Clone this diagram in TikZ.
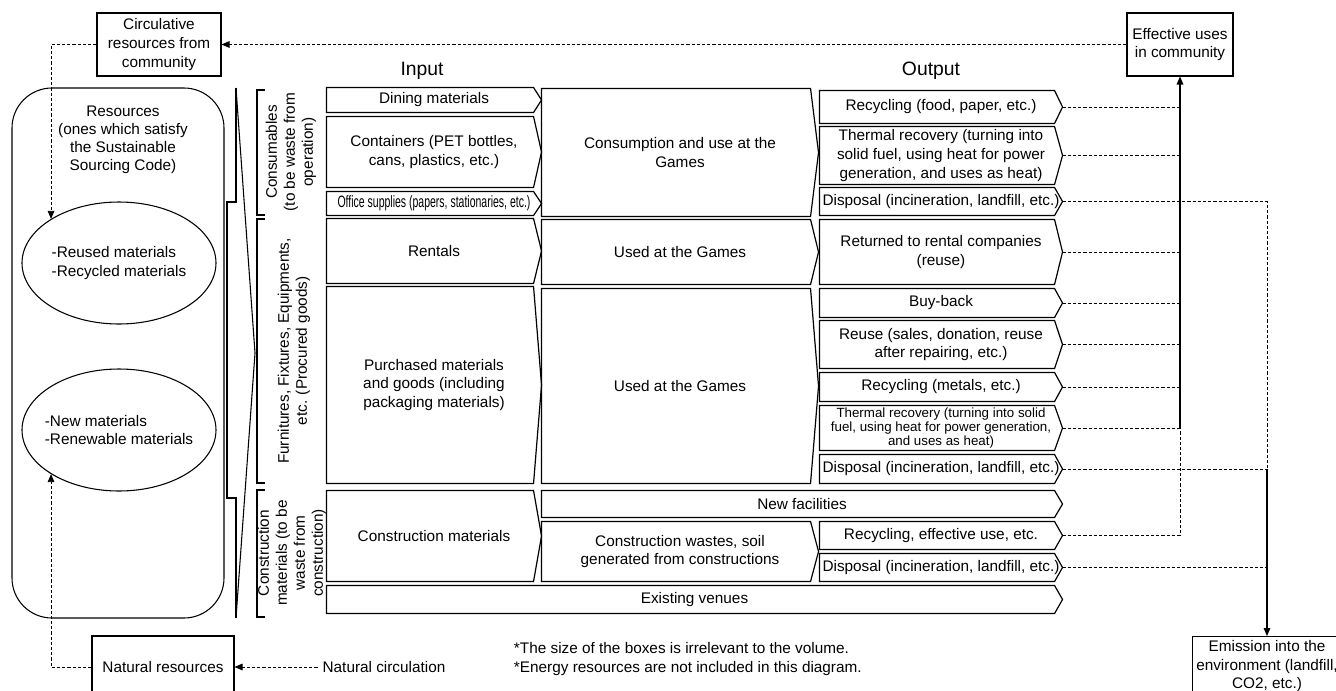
\documentclass[tikz,border=0pt]{standalone}
\usepackage{fontspec}
\setmainfont{Liberation Sans}
\newfontfamily\narrowfont[FakeStretch=0.64]{Liberation Sans}
\usetikzlibrary{arrows.meta,fit,shapes.geometric}

% box from its corners (pixel units): style, name, x1, y1, x2, y2, text
\newcommand{\placebox}[7]{%
  \node[#1, minimum width={(#5-#3)*0.75pt}, minimum height={(#6-#4)*0.75pt}]
    (#2) at ({(#3+#5)/2},{(#4+#6)/2}) {#7};}

\begin{document}
\begin{tikzpicture}[x=0.75pt, y=-0.75pt, >={Triangle[length=6pt,width=5pt]},
    font=\fontsize{11.5}{14}\selectfont, line width=0.8pt]
  \tikzset{
    box/.style={draw, rectangle, inner sep=0pt, align=center},
    chev/.style={inner sep=0pt, align=center,
      append after command={\pgfextra{\draw[line width=0.9pt]
        (\tikzlastnode.north west) -- ([xshift=-6pt]\tikzlastnode.north east)
        -- (\tikzlastnode.east) -- ([xshift=-6pt]\tikzlastnode.south east)
        -- (\tikzlastnode.south west) -- cycle;}}},
    ell/.style={draw, ellipse, inner sep=0pt, minimum width=194*0.75pt, minimum height=122*0.75pt},
    dashline/.style={line width=0.6pt, dash pattern=on 2.4pt off 1.5pt},
    cat/.style={rotate=90, align=center, font=\fontsize{11.5}{13.5}\selectfont},
    head/.style={font=\fontsize{14.5}{16}\selectfont},
    smalltxt/.style={font=\fontsize{10}{10.5}\selectfont},
    narrow/.style={font=\narrowfont\fontsize{12.3}{13}\selectfont}
  }
  \useasboundingbox (0,0) rectangle (1336,690);

  %% ---- Resources (left) ----
  \placebox{box}{circ}{97}{13}{221}{76}{Circulative\\resources from\\community}
  \node[draw, rounded corners=30pt, inner sep=0pt, fit={(12,88) (224,618)}] (res) {};
  \node[align=center, font=\fontsize{11.5}{13.5}\selectfont] (restxt) at (123,140)
    {Resources\\(ones which satisfy\\the Sustainable\\Sourcing Code)};
  \node[ell] (reused) at (119,263) {};
  \node[align=left] (reusedtxt) at (reused) {-Reused materials\\-Recycled materials};
  \node[ell] (newmat) at (119,430) {};
  \node[align=left] (newmattxt) at (newmat) {-New materials\\-Renewable materials};
  \placebox{box}{natres}{92}{636}{234}{698}{Natural resources}
  \node (natcirc) at (384,667) {Natural circulation};

  \draw[dashline, ->] (circ.west) -| (reused.147);
  \draw[dashline, ->] (natres.west) -| (newmat.213);
  \draw[dashline, ->] (natcirc.west) -- (natres.east);

  %% ---- Brackets ----
  \draw (236,88) -- (236,202) -- (227,202) -- (227,498) -- (236,498) -- (236,618);
  \draw (236,88) -- (255,353) -- (236,618);
  \draw (265,90) -- (257,90) -- (257,215) -- (265,215);
  \draw (265,219) -- (257,219) -- (257,483) -- (265,483);
  \draw (265,490) -- (257,490) -- (257,617) -- (265,617);
  \node[cat] (catcons) at (291,152) {Consumables\\(to be waste from\\operation)};
  \node[cat] (catfurn) at (294,351) {Furnitures, Fixtures, Equipments,\\etc. (Procured goods)};
  \node[cat] (catcnst) at (292,553) {Construction\\materials (to be\\waste from\\construction)};

  %% ---- Headings ----
  \node[head] (hin) at (422,71) {Input};
  \node[head] (hout) at (931,71) {Output};

  %% ---- Input ----
  \placebox{chev}{dining}{327}{88}{541}{112}{Dining materials}
  \placebox{chev}{contain}{327}{117}{541}{187}{Containers (PET bottles,\\cans, plastics, etc.)}
  \placebox{chev, narrow}{office}{327}{192}{541}{215}{Office supplies (papers, stationaries, etc.)}
  \placebox{chev}{rentals}{327}{219}{541}{283}{Rentals}
  \placebox{chev}{purch}{327}{287}{541}{483}{Purchased materials\\and goods (including\\packaging materials)}
  \placebox{chev}{cmat}{327}{491}{541}{581}{Construction materials}

  %% ---- Use ----
  \placebox{chev}{consume}{542}{89}{818}{216}{Consumption and use at the\\Games}
  \placebox{chev}{used1}{542}{220}{818}{284}{Used at the Games}
  \placebox{chev}{used2}{542}{289}{818}{483}{Used at the Games}
  \placebox{chev}{newfac}{542}{491}{1062}{517}{New facilities}
  \placebox{chev}{cwaste}{542}{522}{818}{581}{Construction wastes, soil\\generated from constructions}
  \placebox{chev}{exist}{327}{586}{1062}{613}{Existing venues}

  %% ---- Output ----
  \placebox{chev}{rec1}{820}{91}{1062}{123}{Recycling (food, paper, etc.)}
  \placebox{chev}{therm1}{820}{127}{1062}{184}{Thermal recovery (turning into\\solid fuel, using heat for power\\generation, and uses as heat)}
  \placebox{chev}{disp1}{820}{188}{1062}{215}{Disposal (incineration, landfill, etc.)}
  \placebox{chev}{returned}{820}{220}{1062}{284}{Returned to rental companies\\(reuse)}
  \placebox{chev}{buyback}{820}{289}{1062}{317}{Buy-back}
  \placebox{chev}{reuse}{820}{321}{1062}{368}{Reuse (sales, donation, reuse\\after repairing, etc.)}
  \placebox{chev}{recmet}{820}{373}{1062}{401}{Recycling (metals, etc.)}
  \placebox{chev, smalltxt}{therm2}{820}{406}{1062}{450}{Thermal recovery (turning into solid\\fuel, using heat for power generation,\\and uses as heat)}
  \placebox{chev}{disp2}{820}{455}{1062}{483}{Disposal (incineration, landfill, etc.)}
  \placebox{chev}{receff}{820}{522}{1062}{549}{Recycling, effective use, etc.}
  \placebox{chev}{disp3}{820}{554}{1062}{581}{Disposal (incineration, landfill, etc.)}

  %% ---- Community / environment ----
  \placebox{box}{eff}{1127}{13}{1233}{76}{Effective uses\\in community}
  \node[box, inner sep=3pt, anchor=north] (emis) at (1267,636) {Emission into the\\environment (landfill,\\CO2, etc.)};

  \draw[dashline, ->] (eff.west) -- (circ.east);
  \foreach \n in {rec1,therm1,returned,buyback,reuse,recmet,therm2}
    \draw[dashline] (\n.east) -- (\n.east -| eff.south);
  \draw[->] (therm2.east -| eff.south) -- (eff.south);
  \draw[dashline] (receff.east) -| (therm2.east -| eff.south);
  \draw[dashline] (disp1.east) -| (disp2.east -| emis.north);
  \draw[dashline] (disp2.east) -- (disp2.east -| emis.north);
  \draw[->] (disp2.east -| emis.north) -- (emis.north);
  \draw[dashline] (disp3.east) -- (disp3.east -| emis.north);

  %% ---- Notes ----
  \node[align=left, anchor=west] (notes) at (509,659)
    {*The size of the boxes is irrelevant to the volume.\\*Energy resources are not included in this diagram.};
\end{tikzpicture}
\end{document}
